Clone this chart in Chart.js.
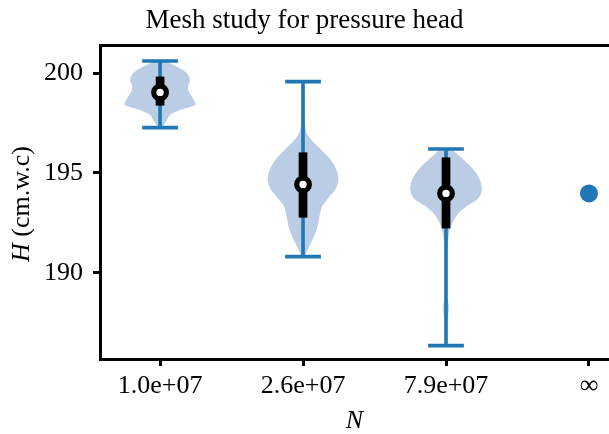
<!DOCTYPE html>
<html>
<head>
<meta charset="utf-8">
<script src="https://cdn.jsdelivr.net/npm/chart.js@4/dist/chart.umd.min.js"></script>
<style>
  html, body { margin: 0; padding: 0; background: #fff; }
  #wrap { width: 609px; height: 434px; }
</style>
</head>
<body>
<div id="wrap"><canvas id="c" width="609" height="434"></canvas></div>
<script>
// Mesh sizes on the x axis (last one is the extrapolated limit)
const categories = ['1.0e+07', '2.6e+07', '7.9e+07', '\u221E'];
const yTicks = [190, 195, 200];

// Summary statistics of the pressure head for each mesh
const positions = [1, 2, 3];
const mins      = [197.27, 190.82, 186.37];
const maxs      = [200.60, 199.57, 196.20];
const q1s       = [198.37, 192.77, 192.23];
const q3s       = [199.82, 196.03, 195.78];
const medians   = [199.03, 194.43, 193.98];

// Extrapolated value at N -> infinity
const limitPosition = 4;
const limitValue = 193.98;

// Violin profiles: head levels and relative density (1 = widest)
const levels1 = [197.27, 197.40, 197.57, 197.90, 198.15, 198.30, 198.43, 198.60, 198.82, 199.02, 199.23, 199.45, 199.65, 199.85, 200.07, 200.30, 200.48, 200.60];
const dens1   = [0.04, 0.10, 0.17, 0.28, 0.56, 0.85, 1.00, 0.96, 0.89, 0.82, 0.78, 0.80, 0.84, 0.80, 0.70, 0.50, 0.28, 0.08];

const levels2 = [190.82, 190.90, 191.32, 191.73, 192.23, 192.73, 193.32, 193.73, 194.23, 194.65, 195.07, 195.57, 196.07, 196.57, 196.98, 197.40, 198.00, 198.60, 199.20, 199.57];
const dens2   = [0.01, 0.06, 0.17, 0.28, 0.39, 0.45, 0.53, 0.70, 0.92, 0.99, 0.95, 0.81, 0.56, 0.28, 0.11, 0.06, 0.04, 0.04, 0.03, 0.01];

const levels3 = [186.37, 186.80, 187.30, 187.82, 188.32, 188.82, 189.30, 190.00, 190.80, 191.65, 192.15, 192.57, 192.90, 193.32, 193.73, 194.15, 194.65, 195.15, 195.65, 196.00, 196.20];
const dens3   = [0.01, 0.02, 0.03, 0.06, 0.08, 0.03, 0.02, 0.02, 0.03, 0.06, 0.11, 0.20, 0.31, 0.56, 0.90, 1.00, 0.95, 0.78, 0.50, 0.28, 0.14];

const profiles = [[levels1, dens1], [levels2, dens2], [levels3, dens3]];

const C0 = '#1f77b4';
const BODY = 'rgb(186, 205, 229)';
const HALF = 0.25;   // half-width of the widest part of a violin, x units
const CAP = 0.125;   // half-length of the whisker caps, x units
const FONT = '"Liberation Serif", "Times New Roman", serif';
const TICK_SIZE = 26;

function outline(pos, levels, dens) {
  const right = levels.map((h, i) => ({ x: pos + HALF * dens[i], y: h }));
  const left = levels.map((h, i) => ({ x: pos - HALF * dens[i], y: h })).reverse();
  return right.concat(left);
}

const datasets = [];

// violin bodies
profiles.forEach(([lv, d], i) => {
  datasets.push({
    data: outline(positions[i], lv, d),
    fill: 'shape', backgroundColor: BODY, borderWidth: 0,
    pointRadius: 0, tension: 0.3, order: 5
  });
});

// whiskers and caps
positions.forEach((p, i) => {
  const seg = { borderColor: C0, borderWidth: 3.6, pointRadius: 0, fill: false, borderCapStyle: 'butt', order: 4 };
  datasets.push(Object.assign({ data: [{ x: p, y: mins[i] }, { x: p, y: maxs[i] }] }, seg));
  datasets.push(Object.assign({ data: [{ x: p - CAP, y: mins[i] }, { x: p + CAP, y: mins[i] }] }, seg));
  datasets.push(Object.assign({ data: [{ x: p - CAP, y: maxs[i] }, { x: p + CAP, y: maxs[i] }] }, seg));
});

// interquartile bars
positions.forEach((p, i) => {
  datasets.push({
    data: [{ x: p, y: q1s[i] }, { x: p, y: q3s[i] }],
    borderColor: '#000', borderWidth: 8.7, borderCapStyle: 'butt',
    pointRadius: 0, fill: false, order: 3
  });
});

// medians
datasets.push({
  data: positions.map((p, i) => ({ x: p, y: medians[i] })),
  showLine: false, pointRadius: 6.3, pointBackgroundColor: '#fff',
  pointBorderColor: '#000', pointBorderWidth: 5.2, order: 2
});

// extrapolated limit
datasets.push({
  data: [{ x: limitPosition, y: limitValue }],
  showLine: false, pointRadius: 9, pointBackgroundColor: C0,
  pointBorderWidth: 0, order: 1
});

const yTitlePlugin = {
  id: 'yTitle',
  afterDraw(chart) {
    const ctx = chart.ctx;
    const a = chart.chartArea;
    ctx.save();
    ctx.translate(22, (a.top + a.bottom) / 2 + 2);
    ctx.rotate(-Math.PI / 2);
    const fi = 'italic ' + TICK_SIZE + 'px ' + FONT;
    const fn = TICK_SIZE + 'px ' + FONT;
    ctx.font = fi; const w1 = ctx.measureText('H').width;
    ctx.font = fn; const w2 = ctx.measureText(' (cm.w.c)').width;
    const x0 = -(w1 + w2) / 2;
    ctx.textBaseline = 'middle';
    ctx.fillStyle = '#000';
    ctx.font = fi; ctx.fillText('H', x0, 0);
    ctx.font = fn; ctx.fillText(' (cm.w.c)', x0 + w1, 0);
    ctx.restore();
  }
};

const noSidePadding = s => { s.paddingLeft = 0; s.paddingRight = 0; };

new Chart(document.getElementById('c'), {
  type: 'line',
  data: { datasets },
  plugins: [yTitlePlugin],
  options: {
    responsive: false,
    animation: false,
    layout: { padding: 0, autoPadding: false },
    plugins: {
      legend: { display: false },
      tooltip: { enabled: false },
      title: {
        display: true, text: 'Mesh study for pressure head', color: '#000',
        font: { family: FONT, size: 27, weight: 'normal', lineHeight: 1.2 },
        padding: { top: 5, bottom: 7.6 }
      }
    },
    scales: {
      x: {
        type: 'linear', position: 'bottom', min: 0.58, max: 4.14,
        afterBuildTicks: s => { s.ticks = categories.map((_, i) => ({ value: i + 1 })); },
        afterFit: s => { s.height = 75; noSidePadding(s); },
        ticks: {
          callback: v => categories[Math.round(v) - 1] ?? '',
          font: { family: FONT, size: TICK_SIZE }, color: '#000', padding: 5,
          maxRotation: 0, autoSkip: false
        },
        grid: { display: true, drawOnChartArea: false, drawTicks: true, tickLength: 7, tickWidth: 3, tickColor: '#000' },
        border: { display: true, color: '#000', width: 3 },
        title: {
          display: true, text: 'N', color: '#000',
          font: { family: FONT, size: TICK_SIZE, style: 'italic', lineHeight: 1 },
          padding: { top: 0, bottom: 0 }
        }
      },
      xTop: {
        type: 'linear', position: 'top', min: 0.58, max: 4.14,
        ticks: { display: false },
        grid: { display: false, drawTicks: false },
        border: { display: true, color: '#000', width: 3 },
        afterFit: s => { s.height = 0; noSidePadding(s); }
      },
      y: {
        min: 185.7, max: 201.4,
        afterBuildTicks: s => { s.ticks = yTicks.map(v => ({ value: v })); },
        afterFit: s => { s.width = 100; },
        ticks: { font: { family: FONT, size: TICK_SIZE }, color: '#000', padding: 10 },
        grid: { display: true, drawOnChartArea: false, drawTicks: true, tickLength: 7, tickWidth: 3, tickColor: '#000' },
        border: { display: true, color: '#000', width: 3 }
      }
    }
  }
});
</script>
</body>
</html>
